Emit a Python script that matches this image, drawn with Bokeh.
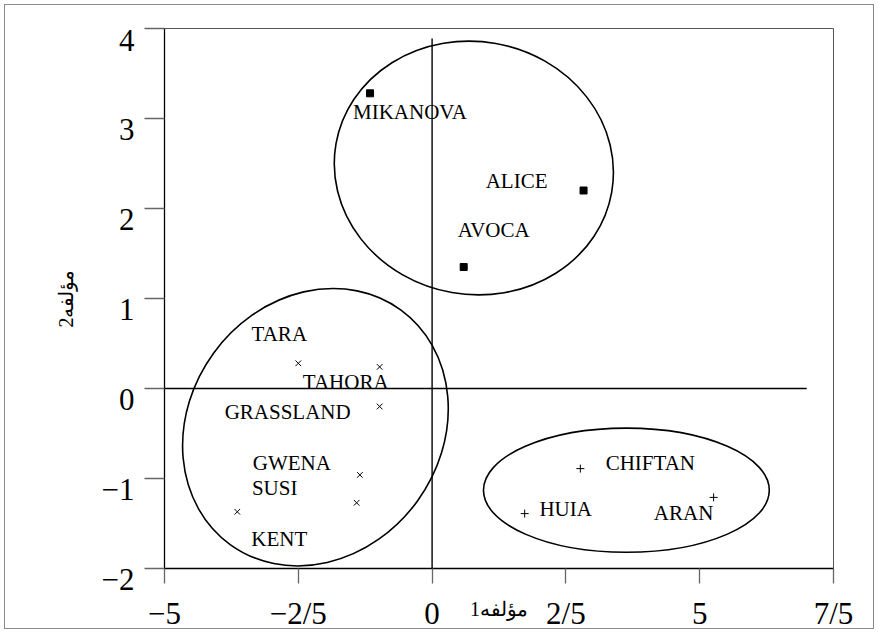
from bokeh.plotting import figure
from bokeh.models import ColumnDataSource, Range1d, FixedTicker, InlineStyleSheet
from bokeh.embed import file_html
from bokeh.resources import INLINE
from bokeh.core.properties import value

# ---------------- data ----------------
group_a_names = ["MIKANOVA", "ALICE", "AVOCA"]
group_a_x = [-1.16, 2.83, 0.59]
group_a_y = [3.28, 2.20, 1.35]

group_b_names = ["TARA", "TAHORA", "GRASSLAND", "GWENA", "SUSI", "KENT"]
group_b_x = [-2.50, -0.98, -0.98, -1.35, -1.41, -3.64]
group_b_y = [0.28, 0.24, -0.20, -0.96, -1.27, -1.37]

group_c_names = ["CHIFTAN", "HUIA", "ARAN"]
group_c_x = [2.77, 1.73, 5.26]
group_c_y = [-0.89, -1.39, -1.21]

# cluster ellipses: centre, width (x units), height (y units), angle (deg)
ellipse_cx = [0.78, -2.18, 3.63]
ellipse_cy = [2.45, -0.43, -1.13]
ellipse_w = [5.23, 5.42, 5.34]
ellipse_h = [2.81, 2.80, 1.38]
ellipse_angle = [-10, 54, 0]

# origin reference lines (extent)
vline_y_extent = [-2.0, 3.89]
hline_x_extent = [-5.04, 7.0]

x_ticks = [-5, -2.5, 0, 2.5, 5, 7.5]
x_tick_labels = ["\u22125", "\u22122/5", "0", "2/5", "5", "7/5"]
y_ticks = [-2, -1, 0, 1, 2, 3, 4]
y_tick_labels = ["\u22122", "\u22121", "0", "1", "2", "3", "4"]

x_title = "مؤلفه1"
y_title = "مؤلفه2"

# label placement (pixel offsets of each name from its point)
group_a_dx = [40, -67, 30]
group_a_dy = [19, -10, -37]
group_b_dx = [-19, -34, -92, -68, -82, 42]
group_b_dy = [-29, 15, 5, -12, -15, 27]
group_c_dx = [70, 41, -30]
group_c_dy = [-6, -5, 16]

FONT = "Liberation Serif"

p = figure(width=878, height=633,
           x_range=Range1d(-5, 7.5), y_range=Range1d(-2, 4),
           output_backend="svg", toolbar_location=None,
           min_border_left=164, min_border_right=45,
           min_border_top=28, min_border_bottom=65)
# thin grey page frame around the whole chart
p.stylesheets = [InlineStyleSheet(css=(
    ":host::after { content: ''; position: absolute; left: 4px; top: 4px; "
    "right: 4px; bottom: 4px; border: 1px solid #8a8a8a; "
    "pointer-events: none; z-index: 100; }"))]
p.grid.visible = False
p.outline_line_color = "#555555"
p.outline_line_width = 1
p.background_fill_color = "white"
p.border_fill_color = "white"

# axes
for ax in (p.xaxis[0], p.yaxis[0]):
    ax.major_label_text_font = FONT
    ax.major_label_text_font_size = "31px"
    ax.major_label_text_color = "black"
    ax.axis_line_color = "black"
    ax.axis_line_width = 1.3
    ax.major_tick_line_color = "#666666"
    ax.major_tick_line_width = 1.3
    ax.major_tick_in = 0
    ax.minor_tick_line_color = None
    ax.axis_label_text_font = FONT
    ax.axis_label_text_font_size = "20px"
    ax.axis_label_text_font_style = "normal"
    ax.axis_label_text_color = "black"

p.xaxis.ticker = FixedTicker(ticks=x_ticks)
p.xaxis.major_label_overrides = dict(zip(x_ticks, x_tick_labels))
p.xaxis.major_tick_out = 15
p.xaxis.major_label_standoff = 12
p.xaxis.axis_label = x_title
p.xaxis.axis_label_standoff = -36

p.yaxis.ticker = FixedTicker(ticks=y_ticks)
# the reference prints each y label just below its tick: an empty first line
p.yaxis.major_label_overrides = {t: "\n" + s for t, s in zip(y_ticks, y_tick_labels)}
p.yaxis.major_label_text_line_height = 0.65
p.yaxis.major_tick_out = 20
p.yaxis.major_label_standoff = 10
p.yaxis.axis_label = y_title
p.yaxis.axis_label_standoff = 22

# ellipses
p.ellipse(x=ellipse_cx, y=ellipse_cy, width=ellipse_w, height=ellipse_h,
          angle=ellipse_angle, angle_units="deg",
          fill_color=None, line_color="black", line_width=1.6)

# origin lines
p.segment(x0=[0], y0=[vline_y_extent[0]], x1=[0], y1=[vline_y_extent[1]],
          line_color="black", line_width=1.4)
p.segment(x0=[hline_x_extent[0]], y0=[0], x1=[hline_x_extent[1]], y1=[0],
          line_color="black", line_width=1.4)

src_a = ColumnDataSource(dict(x=group_a_x, y=group_a_y, name=group_a_names,
                              dx=group_a_dx, dy=group_a_dy))
src_b = ColumnDataSource(dict(x=group_b_x, y=group_b_y, name=group_b_names,
                              dx=group_b_dx, dy=group_b_dy))
src_c = ColumnDataSource(dict(x=group_c_x, y=group_c_y, name=group_c_names,
                              dx=group_c_dx, dy=group_c_dy))

p.scatter("x", "y", source=src_a, marker="square", size=7,
          fill_color="black", line_color="black")
p.scatter("x", "y", source=src_b, marker="x", size=8,
          line_color="black", line_width=1)
p.scatter("x", "y", source=src_c, marker="cross", size=8,
          line_color="black", line_width=1)

for src in (src_a, src_b, src_c):
    p.text("x", "y", text="name", source=src, x_offset="dx", y_offset="dy",
           text_align="center", text_baseline="middle",
           text_font=value(FONT), text_font_size="21px", text_color="black")

open("out.html", "w").write(file_html(p, INLINE))
